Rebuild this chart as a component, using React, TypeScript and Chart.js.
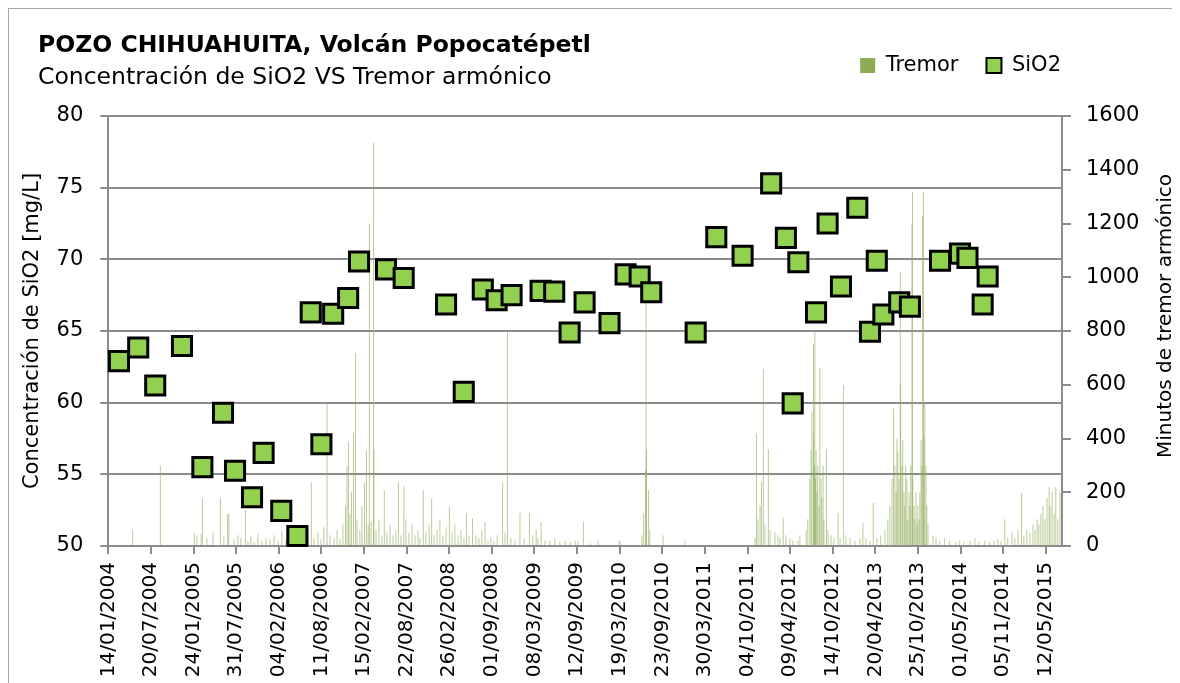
import React, { useEffect, useRef } from 'react';
import { Chart, registerables } from 'chart.js';

Chart.register(...registerables);

const FONT = "'DejaVu Sans', 'Open Sans', sans-serif";

const TITLE = 'POZO CHIHUAHUITA, Volcán Popocatépetl';
const SUBTITLE = 'Concentración de SiO2 VS Tremor armónico';
const Y_LEFT_TITLE = 'Concentración de SiO2 [mg/L]';
const Y_RIGHT_TITLE = 'Minutos de tremor armónico';
const LABEL_TREMOR = 'Tremor';
const LABEL_SIO2 = 'SiO2';

const X_START = '14/01/2004';
const X_END = '22/07/2015';

const TICK_DATES = [
  '14/01/2004', '20/07/2004', '24/01/2005', '31/07/2005', '04/02/2006', '11/08/2006',
  '15/02/2007', '22/08/2007', '26/02/2008', '01/09/2008', '08/03/2009', '12/09/2009',
  '19/03/2010', '23/09/2010', '30/03/2011', '04/10/2011', '09/04/2012', '14/10/2012',
  '20/04/2013', '25/10/2013', '01/05/2014', '05/11/2014', '12/05/2015',
];

const SIO2_DATES = [
  '01/03/2004', '25/05/2004', '08/08/2004', '04/12/2004', '04/03/2005', '03/06/2005',
  '26/07/2005', '09/10/2005', '29/11/2005', '15/02/2006', '27/04/2006', '25/06/2006',
  '11/08/2006', '02/10/2006', '07/12/2006', '24/01/2007', '23/05/2007', '09/08/2007',
  '12/02/2008', '30/04/2008', '23/07/2008', '22/09/2008', '27/11/2008', '04/04/2009',
  '03/06/2009', '10/08/2009', '15/10/2009', '02/02/2010', '14/04/2010', '15/06/2010',
  '05/08/2010', '17/02/2011', '19/05/2011', '12/09/2011', '16/01/2012', '21/03/2012',
  '20/04/2012', '15/05/2012', '01/08/2012', '21/09/2012', '19/11/2012', '30/01/2013',
  '27/03/2013', '26/04/2013', '25/05/2013', '03/08/2013', '19/09/2013', '30/01/2014',
  '28/04/2014', '31/05/2014', '06/08/2014', '28/08/2014',
];

const SIO2_VALUES = [
  62.9, 63.85, 61.2, 63.95, 55.5, 59.3,
  55.25, 53.4, 56.5, 52.45, 50.7, 66.3,
  57.1, 66.2, 67.3, 69.85, 69.3, 68.7,
  66.85, 60.75, 67.9, 67.15, 67.5, 67.8,
  67.75, 64.9, 67.0, 65.55, 68.95, 68.8,
  67.7, 64.9, 71.55, 70.25, 75.3, 71.5,
  59.95, 69.8, 66.3, 72.5, 68.1, 73.6,
  64.95, 69.9, 66.15, 67.0, 66.7, 69.9,
  70.4, 70.1, 66.85, 68.8,
];

// [days after 14/01/2004, minutes of harmonic tremor]
const TREMOR: [number, number][] = [
  [108, 60], [229, 299], [379, 48], [391, 40], [409, 45], [416, 177], [435, 30], [462, 50], [494, 178], [510, 35],
  [527, 119], [532, 119], [554, 25], [572, 40], [585, 30], [604, 134], [616, 20], [629, 35], [643, 15], [660, 45],
  [678, 20], [696, 30], [713, 25], [731, 40], [749, 20], [766, 55], [784, 25], [801, 30], [819, 20], [846, 35],
  [868, 25], [881, 60], [895, 237], [907, 30], [925, 50], [938, 25], [951, 70], [965, 537], [978, 40], [996, 30],
  [1009, 60], [1022, 25], [1035, 80], [1046, 150], [1053, 300], [1059, 388], [1066, 120], [1073, 200], [1081, 419], [1090, 717],
  [1097, 100], [1110, 60], [1119, 150], [1131, 237], [1138, 357], [1146, 80], [1151, 1200], [1159, 90], [1169, 1500], [1172, 357],
  [1181, 60], [1194, 100], [1207, 40], [1217, 208], [1229, 50], [1243, 80], [1256, 40], [1269, 60], [1279, 237], [1291, 40],
  [1304, 221], [1313, 100], [1326, 50], [1340, 80], [1353, 40], [1366, 60], [1375, 30], [1389, 208], [1401, 50], [1415, 80],
  [1427, 177], [1437, 40], [1450, 60], [1463, 100], [1476, 40], [1490, 70], [1504, 146], [1516, 50], [1529, 80], [1543, 40],
  [1556, 60], [1569, 30], [1581, 122], [1591, 40], [1607, 103], [1622, 40], [1635, 30], [1648, 60], [1662, 90], [1675, 20],
  [1688, 30], [1701, 20], [1715, 40], [1740, 239], [1750, 50], [1760, 797], [1776, 30], [1794, 20], [1816, 123], [1834, 30],
  [1857, 123], [1873, 40], [1887, 60], [1895, 30], [1909, 90], [1926, 20], [1948, 20], [1970, 30], [1992, 15], [2015, 20],
  [2037, 15], [2059, 20], [2072, 20], [2095, 90], [2125, 10], [2160, 20], [2253, 20], [2257, 20], [2354, 40], [2362, 120],
  [2370, 283], [2372, 950], [2375, 357], [2384, 208], [2389, 60], [2447, 40], [2544, 20], [2853, 30], [2860, 419], [2866, 100],
  [2875, 150], [2882, 239], [2889, 659], [2897, 80], [2911, 360], [2919, 60], [2941, 50], [2954, 40], [2963, 30], [2977, 104],
  [2989, 40], [3007, 30], [3020, 20], [3042, 20], [3051, 40], [3078, 60], [3086, 100], [3095, 250], [3100, 357], [3104, 500],
  [3110, 752], [3112, 420], [3115, 300], [3117, 797], [3119, 250], [3122, 357], [3126, 200], [3130, 300], [3135, 150], [3139, 662],
  [3144, 250], [3148, 180], [3153, 300], [3157, 100], [3169, 361], [3175, 60], [3188, 40], [3201, 30], [3219, 123], [3228, 30],
  [3242, 599], [3254, 40], [3272, 30], [3294, 20], [3316, 30], [3329, 86], [3342, 30], [3360, 20], [3374, 160], [3391, 30],
  [3408, 40], [3426, 60], [3439, 100], [3448, 150], [3457, 250], [3463, 513], [3470, 300], [3475, 200], [3479, 400], [3483, 350],
  [3488, 250], [3493, 1020], [3496, 606], [3501, 300], [3505, 394], [3510, 200], [3514, 150], [3518, 300], [3523, 250], [3527, 100],
  [3532, 200], [3536, 150], [3540, 300], [3545, 1198], [3547, 1318], [3549, 250], [3554, 150], [3558, 100], [3563, 200], [3567, 80],
  [3571, 150], [3576, 100], [3580, 200], [3585, 394], [3589, 300], [3593, 1229], [3595, 1318], [3598, 400], [3602, 532], [3607, 300],
  [3611, 150], [3616, 80], [3638, 40], [3651, 30], [3668, 20], [3690, 30], [3712, 20], [3739, 15], [3756, 20], [3774, 15],
  [3801, 20], [3823, 30], [3840, 15], [3867, 20], [3889, 15], [3907, 20], [3924, 25], [3938, 20], [3955, 100], [3968, 30],
  [3986, 50], [3999, 30], [4013, 60], [4029, 197], [4039, 40], [4052, 60], [4066, 50], [4079, 80], [4088, 60], [4097, 100],
  [4105, 80], [4114, 120], [4123, 150], [4132, 100], [4141, 180], [4150, 220], [4154, 150], [4163, 200], [4172, 120], [4180, 220],
  [4189, 100], [4198, 200],
];

const Y_LEFT = { min: 50, max: 80, step: 5 };
const Y_RIGHT = { min: 0, max: 1600, step: 200 };

const GRID = '#8c8c8c';
const TREMOR_COLOR = '#8DAA55';
const SIO2_FILL = '#92D050';

function toUTC(s: string): number {
  const [d, m, y] = s.split('/').map(Number);
  return Date.UTC(y, m - 1, d);
}
const START_UTC = toUTC(X_START);
function dayOf(s: string): number {
  return Math.round((toUTC(s) - START_UTC) / 86400000);
}

// Draws the secondary-axis title reading bottom-to-top, like the primary one.
const rightTitlePlugin = {
  id: 'rightTitle',
  afterDraw(chart: any) {
    const s = chart.scales.y1;
    const ca = chart.chartArea;
    const ctx = chart.ctx;
    ctx.save();
    ctx.translate(s.left + 104, (ca.top + ca.bottom) / 2 - 15);
    ctx.rotate(-Math.PI / 2);
    ctx.font = `20px ${FONT}`;
    ctx.fillStyle = '#000';
    ctx.textAlign = 'center';
    ctx.textBaseline = 'middle';
    ctx.fillText(Y_RIGHT_TITLE, 0, 0);
    ctx.restore();
  },
};

// Moves the legend row so that it ends over the right edge of the plot.
const legendShiftPlugin = {
  id: 'legendShift',
  afterLayout(chart: any) {
    const lg = chart.legend;
    if (lg) {
      lg.right = chart.chartArea.right + 27;
      lg.width = lg.right - lg.left;
    }
  },
};

export default function App() {
  const ref = useRef<HTMLCanvasElement>(null);

  useEffect(() => {
    document.documentElement.style.overflow = 'hidden';
    document.body.style.overflow = 'hidden';
    Chart.defaults.font.family = FONT;
    const canvas = ref.current;
    if (!canvas) return;

    const chart = new Chart(canvas, {
      type: 'bar',
      data: {
        datasets: [
          {
            type: 'bar',
            label: LABEL_TREMOR,
            data: TREMOR.map(([d, v]) => ({ x: d, y: v })),
            yAxisID: 'y1',
            backgroundColor: TREMOR_COLOR,
            borderWidth: 0,
            barThickness: 0.6,
            inflateAmount: 0,
            order: 1,
          } as any,
          {
            type: 'line',
            label: LABEL_SIO2,
            data: SIO2_DATES.map((d, i) => ({ x: dayOf(d), y: SIO2_VALUES[i] })),
            yAxisID: 'y',
            showLine: false,
            backgroundColor: SIO2_FILL,
            borderColor: '#000',
            borderWidth: 2,
            pointStyle: 'rect',
            pointRadius: 13.5,
            pointHoverRadius: 13.5,
            pointBackgroundColor: SIO2_FILL,
            pointBorderColor: '#000',
            pointBorderWidth: 3,
            clip: false,
            order: 0,
          } as any,
        ],
      },
      options: {
        responsive: false,
        animation: false,
        devicePixelRatio: 1,
        events: [],
        layout: { padding: { left: 29, right: 0, top: 0, bottom: 0 } },
        plugins: {
          title: {
            display: true,
            text: TITLE,
            align: 'start',
            color: '#000',
            font: { family: FONT, size: 23.5, weight: 'bold', lineHeight: 1.2 },
            padding: { top: 22.9, bottom: -33.1 },
          },
          subtitle: {
            display: true,
            text: SUBTITLE,
            align: 'start',
            color: '#000',
            font: { family: FONT, size: 23.5, weight: 'normal', lineHeight: 1.2 },
            padding: { top: -22.1, bottom: 23.9 },
          },
          legend: {
            display: true,
            position: 'top',
            align: 'end',
            weight: 1800,
            labels: {
              color: '#000',
              font: { family: FONT, size: 21 },
              boxWidth: 15,
              boxHeight: 15,
              padding: 28,
              sort: (a: any, b: any) => a.datasetIndex - b.datasetIndex,
            },
          } as any,
          tooltip: { enabled: false },
        },
        scales: {
          x: {
            type: 'linear',
            position: 'bottom',
            min: dayOf(X_START),
            max: dayOf(X_END),
            offset: false,
            afterBuildTicks: (scale: any) => {
              scale.ticks = TICK_DATES.map((d) => ({ value: dayOf(d) }));
            },
            afterFit: (scale: any) => {
              scale.height = 141;
            },
            grid: {
              display: true,
              drawOnChartArea: false,
              drawTicks: true,
              tickLength: 8,
              color: GRID,
              lineWidth: 2,
              offset: false,
            },
            border: { display: true, color: GRID, width: 2 },
            ticks: {
              autoSkip: false,
              maxRotation: 90,
              minRotation: 90,
              padding: 8,
              color: '#000',
              font: { family: FONT, size: 20 },
              callback: (_v: any, i: number) => TICK_DATES[i],
            },
          },
          y: {
            type: 'linear',
            position: 'left',
            min: Y_LEFT.min,
            max: Y_LEFT.max,
            afterFit: (scale: any) => {
              scale.width = 70.3;
            },
            ticks: {
              stepSize: Y_LEFT.step,
              padding: 17,
              color: '#000',
              font: { family: FONT, size: 21 },
              callback: (v: any) => String(v),
            },
            grid: { color: GRID, lineWidth: 2, tickLength: 8, drawTicks: true },
            border: { display: true, color: GRID, width: 2 },
            title: {
              display: true,
              text: Y_LEFT_TITLE,
              color: '#000',
              font: { family: FONT, size: 21 },
              padding: { top: -17.6, bottom: 0 },
            },
          },
          y1: {
            type: 'linear',
            position: 'right',
            min: Y_RIGHT.min,
            max: Y_RIGHT.max,
            afterFit: (scale: any) => {
              scale.width = 120;
            },
            ticks: {
              stepSize: Y_RIGHT.step,
              padding: 15,
              color: '#000',
              font: { family: FONT, size: 21 },
              callback: (v: any) => String(v),
            },
            grid: { drawOnChartArea: false, color: GRID, lineWidth: 2, tickLength: 9, drawTicks: true },
            border: { display: true, color: GRID, width: 2 },
            title: { display: false },
          },
        },
      } as any,
      plugins: [rightTitlePlugin, legendShiftPlugin],
    });

    return () => chart.destroy();
  }, []);

  return (
    <div style={{ width: 1173, height: 678, border: '1px solid #a6a6a6', background: '#fff' }}>
      <canvas ref={ref} width={1173} height={678} style={{ display: 'block' }} />
    </div>
  );
}
